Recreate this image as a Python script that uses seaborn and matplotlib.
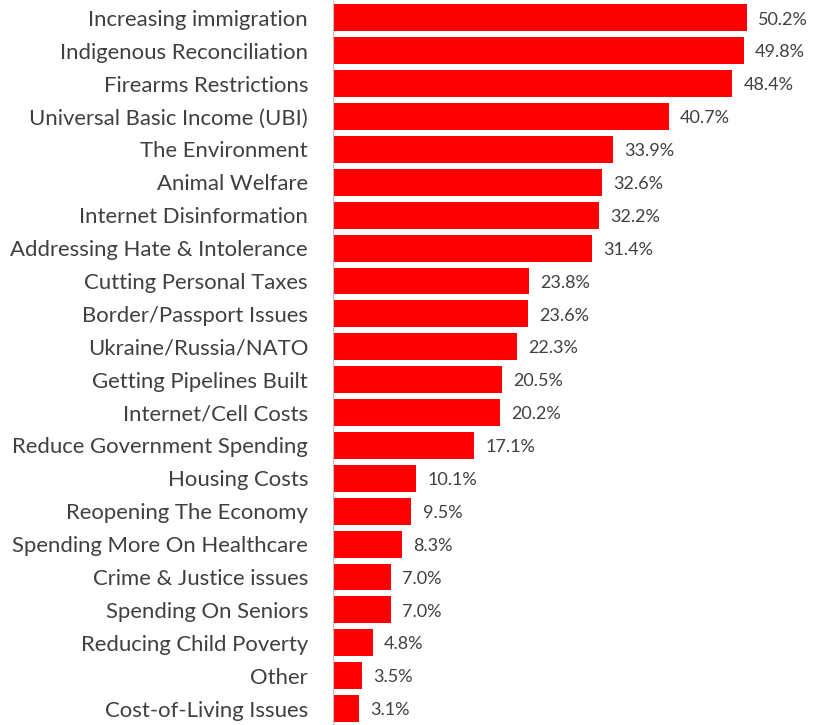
import matplotlib
matplotlib.use("Agg")
import matplotlib.pyplot as plt
import seaborn as sns
import pandas as pd

categories = [
    "Increasing immigration", "Indigenous Reconciliation", "Firearms Restrictions",
    "Universal Basic Income (UBI)", "The Environment", "Animal Welfare",
    "Internet Disinformation", "Addressing Hate & Intolerance", "Cutting Personal Taxes",
    "Border/Passport Issues", "Ukraine/Russia/NATO", "Getting Pipelines Built",
    "Internet/Cell Costs", "Reduce Government Spending", "Housing Costs",
    "Reopening The Economy", "Spending More On Healthcare", "Crime & Justice issues",
    "Spending On Seniors", "Reducing Child Poverty", "Other", "Cost-of-Living Issues",
]
values = [50.2, 49.8, 48.4, 40.7, 33.9, 32.6, 32.2, 31.4, 23.8, 23.6, 22.3, 20.5,
          20.2, 17.1, 10.1, 9.5, 8.3, 7.0, 7.0, 4.8, 3.5, 3.1]

df = pd.DataFrame({"topic": categories, "pct": values})

sns.set_theme(style="white")
plt.rcParams["font.family"] = ["Lato", "DejaVu Sans"]

fig = plt.figure(figsize=(8.39, 7.25), dpi=100)
ax = fig.add_axes([0.397, 0.0, 0.59, 0.998])

sns.barplot(data=df, x="pct", y="topic", color="#FF0000", saturation=1,
            width=0.82, orient="h", ax=ax, edgecolor="none")

ax.set_xlim(0, 60)
ax.set_ylim(len(categories) - 0.5, -0.5)
ax.set_xlabel("")
ax.set_ylabel("")
ax.set_xticks([])
for s in ["top", "right", "bottom"]:
    ax.spines[s].set_visible(False)
ax.spines["left"].set_color("#BFBFBF")
ax.spines["left"].set_linewidth(0.8)

ax.tick_params(axis="y", length=0, pad=18, labelsize=15.9, labelcolor="#404040")

for i, v in enumerate(values):
    ax.text(v + 1.35, i + 0.05, f"{v:.1f}%", va="center", ha="left",
            fontsize=13, color="#404040")

fig.savefig("out.png", dpi=100)
